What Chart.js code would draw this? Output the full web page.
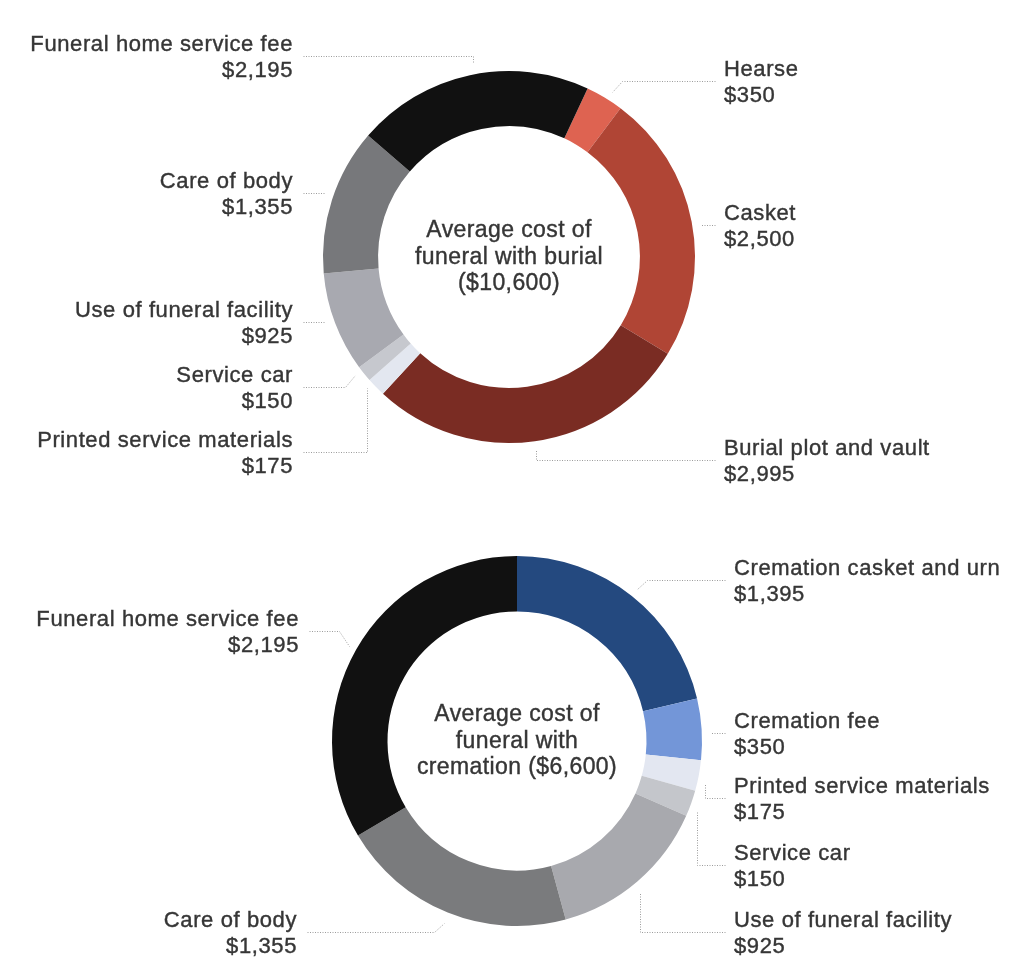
<!DOCTYPE html>
<html>
<head>
<meta charset="utf-8">
<script src="https://cdn.jsdelivr.net/npm/chart.js@4"></script>
<style>
  html, body { margin: 0; padding: 0; background: #fff; }
  #wrap { position: relative; width: 1024px; height: 971px; }
  .box { position: absolute; left: 0; width: 1024px; }
  #burialBox { top: 0; height: 490px; }
  #cremationBox { top: 490px; height: 481px; }
</style>
</head>
<body>
<div id="wrap">
  <div class="box" id="burialBox"><canvas id="burialChart" width="1024" height="490"></canvas></div>
  <div class="box" id="cremationBox"><canvas id="cremationChart" width="1024" height="481"></canvas></div>
</div>
<script>
'use strict';

// burial funeral, clockwise from the hearse slice
const burialLabels = ['Hearse', 'Casket', 'Burial plot and vault', 'Printed service materials',
  'Service car', 'Use of funeral facility', 'Care of body', 'Funeral home service fee'];
const burialCosts = [350, 2500, 2995, 175, 150, 925, 1355, 2195];
const burialColors = ['#de6351', '#b04535', '#7a2c23', '#e3e7f0', '#c6c8ce', '#a8a9b0', '#77787b', '#111111'];
const burialTitle = ['Average cost of', 'funeral with burial', '($10,600)'];

// cremation funeral, clockwise from 12 o'clock
const cremationLabels = ['Cremation casket and urn', 'Cremation fee', 'Printed service materials',
  'Service car', 'Use of funeral facility', 'Care of body', 'Funeral home service fee'];
const cremationCosts = [1395, 350, 175, 150, 925, 1355, 2195];
const cremationColors = ['#24497f', '#7396d8', '#e3e7f1', '#c4c6cb', '#a8a9ae', '#7a7b7d', '#111111'];
const cremationTitle = ['Average cost of', 'funeral with', 'cremation ($6,600)'];

// where each callout text sits and how its dotted leader bends
const burialCallouts = [
  {side: 'right', x: 724, y: 76, kind: 'diag', frac: 0.59},
  {side: 'right', x: 724, y: 220, kind: 'h'},
  {side: 'right', x: 724, y: 455, kind: 'v'},
  {side: 'left', x: 293, y: 447, kind: 'v', frac: 0.78, gap: 7},
  {side: 'left', x: 293, y: 382, kind: 'diag', frac: 0.77, gap: 8},
  {side: 'left', x: 293, y: 317, kind: 'h'},
  {side: 'left', x: 293, y: 188, kind: 'h'},
  {side: 'left', x: 293, y: 51, kind: 'v', frac: 0.52, gap: 11}
];
const cremationCallouts = [
  {side: 'right', x: 734, y: 85, kind: 'diag'},
  {side: 'right', x: 734, y: 238, kind: 'h', gap: 8},
  {side: 'right', x: 734, y: 303, kind: 'v', frac: 0.69, gap: 8},
  {side: 'right', x: 734, y: 370, kind: 'v', frac: 0.68, gap: 8},
  {side: 'right', x: 734, y: 437, kind: 'v', frac: 0.53, gap: 10},
  {side: 'left', x: 297, y: 437, kind: 'diag', gap: 11},
  {side: 'left', x: 299, y: 136, kind: 'diag', gap: 8}
];

const textColor = '#363636';
const fontFamily = '"Liberation Sans", Arial, Helvetica, sans-serif';

function money(v) {
  return '$' + v.toLocaleString('en-US');
}

// fill plus a hairline stroke so the text reads as heavy as the original
function heavyText(ctx, str, x, y) {
  ctx.fillText(str, x, y);
  ctx.strokeText(str, x, y);
}

const calloutPlugin = {
  id: 'callouts',
  afterDatasetsDraw(chart, args, opts) {
    let ctx = chart.ctx;
    let arcs = chart.getDatasetMeta(0).data;
    let values = chart.data.datasets[0].data;
    ctx.save();
    arcs.forEach((arc, i) => {
      let c = opts.layout[i];
      let p = arc.getProps(['x', 'y', 'startAngle', 'endAngle', 'outerRadius'], true);
      let frac = c.frac === undefined ? 0.5 : c.frac;
      let gap = c.gap === undefined ? 9 : c.gap;
      let a = p.startAngle + (p.endAngle - p.startAngle) * frac;
      let r = p.outerRadius + gap;
      let dir = c.side === 'right' ? 1 : -1;
      let lineY = c.y + 5;
      let lineX = c.side === 'right' ? c.x - 9 : c.x + 10;
      let pts;
      if (c.kind === 'h') {
        let dy = lineY - p.y;
        let ex = p.x + dir * Math.sqrt(Math.max(r * r - dy * dy, 0));
        pts = [[lineX, lineY], [ex, lineY]];
      } else {
        let ex = p.x + r * Math.cos(a);
        let ey = p.y + r * Math.sin(a);
        if (c.kind === 'v') {
          pts = [[lineX, lineY], [ex, lineY], [ex, ey]];
        } else {
          pts = [[lineX, lineY], [ex + dir * 10, lineY], [ex, ey]];
        }
      }
      ctx.beginPath();
      ctx.setLineDash([1, 1.5]);
      ctx.lineWidth = 1;
      ctx.strokeStyle = '#9c9c9c';
      pts.forEach((pt, k) => {
        let px = Math.round(pt[0]) + 0.5, py = Math.round(pt[1]) + 0.5;
        if (k === 0) ctx.moveTo(px, py); else ctx.lineTo(px, py);
      });
      ctx.stroke();

      ctx.setLineDash([]);
      ctx.font = '22px ' + fontFamily;
      ctx.letterSpacing = '0.6px';
      ctx.fillStyle = textColor;
      ctx.strokeStyle = textColor;
      ctx.lineWidth = 0.4;
      ctx.textBaseline = 'alphabetic';
      ctx.textAlign = c.side === 'right' ? 'left' : 'right';
      heavyText(ctx, chart.data.labels[i], c.x, c.y);
      heavyText(ctx, money(values[i]), c.x, c.y + 26);
    });
    ctx.restore();
  }
};

const centerTextPlugin = {
  id: 'centerText',
  afterDatasetsDraw(chart, args, opts) {
    let ctx = chart.ctx;
    let arc = chart.getDatasetMeta(0).data[0];
    ctx.save();
    ctx.font = '23px ' + fontFamily;
    ctx.letterSpacing = '0.4px';
    ctx.fillStyle = textColor;
    ctx.strokeStyle = textColor;
    ctx.lineWidth = 0.4;
    ctx.textAlign = 'center';
    ctx.textBaseline = 'alphabetic';
    opts.lines.forEach((line, i) => {
      heavyText(ctx, line, arc.x, arc.y + opts.top + i * 26.5);
    });
    ctx.restore();
  }
};

function makeDonut(canvasId, labels, costs, colors, title, callouts, rotation, cutout, padding) {
  return new Chart(document.getElementById(canvasId), {
    type: 'doughnut',
    data: {
      labels: labels,
      datasets: [{
        data: costs,
        backgroundColor: colors,
        borderWidth: 0,
        hoverOffset: 0
      }]
    },
    options: {
      responsive: false,
      animation: false,
      events: [],
      rotation: rotation,
      cutout: cutout,
      layout: { padding: padding },
      plugins: {
        legend: { display: false },
        tooltip: { enabled: false },
        callouts: { layout: callouts },
        centerText: { lines: title, top: -20 }
      }
    },
    plugins: [calloutPlugin, centerTextPlugin]
  });
}

makeDonut('burialChart', burialLabels, burialCosts, burialColors, burialTitle, burialCallouts,
  25, '70.4%', {left: 323, right: 329, top: 71, bottom: 47});
makeDonut('cremationChart', cremationLabels, cremationCosts, cremationColors, cremationTitle, cremationCallouts,
  0, '70%', {left: 332, right: 322, top: 66, bottom: 45});
</script>
</body>
</html>
